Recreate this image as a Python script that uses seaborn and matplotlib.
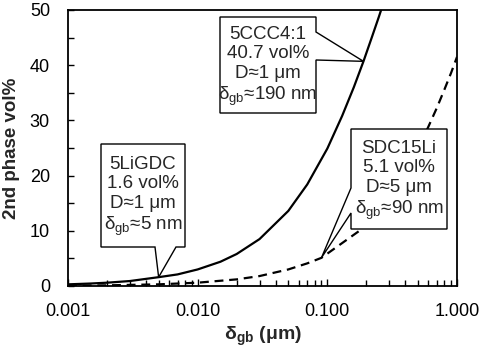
import numpy as np
import pandas as pd
import matplotlib
matplotlib.use("Agg")
import matplotlib.pyplot as plt
from matplotlib.patches import Polygon
from matplotlib.ticker import FixedLocator, NullFormatter, LogLocator
import seaborn as sns

# ---- data ----
delta_d1 = [0.001, 0.0015, 0.002, 0.003, 0.005, 0.007, 0.01, 0.015, 0.02,
            0.03, 0.05, 0.07, 0.1, 0.13, 0.16, 0.19, 0.22, 0.25, 0.28]
vol_d1 = [0.3, 0.45, 0.6, 0.9, 1.6, 2.1, 3.0, 4.4, 5.8,
          8.5, 13.6, 18.4, 24.9, 30.8, 36.0, 40.7, 45.0, 48.8, 52.3]
delta_d5 = [0.001, 0.002, 0.005, 0.01, 0.02, 0.03, 0.05, 0.07, 0.09,
            0.2, 0.3, 0.4, 0.5, 0.6, 0.7, 0.8, 0.9, 1.0]
vol_d5 = [0.06, 0.12, 0.3, 0.6, 1.2, 1.8, 3.0, 4.1, 5.1,
          10.9, 16.1, 20.7, 24.9, 28.8, 32.3, 35.6, 38.6, 41.5]
xtick_vals = [0.001, 0.01, 0.1, 1.0]
xtick_labels = ["0.001", "0.010", "0.100", "1.000"]
ytick_vals = [0, 10, 20, 30, 40, 50]

callouts = [
    ("5LiGDC\n1.6 vol%\nD≈1 μm\nδ$_{\\rm gb}$≈5 nm", 0.005, 1.6),
    ("5CCC4:1\n40.7 vol%\nD≈1 μm\nδ$_{\\rm gb}$≈190 nm", 0.19, 40.7),
    ("SDC15Li\n5.1 vol%\nD≈5 μm\nδ$_{\\rm gb}$≈90 nm", 0.09, 5.1),
]

df = pd.concat([
    pd.DataFrame({"delta": delta_d1, "vol": vol_d1, "series": "D=1"}),
    pd.DataFrame({"delta": delta_d5, "vol": vol_d5, "series": "D=5"}),
])

sns.set_theme(style="white")
plt.rcParams["font.family"] = ["Liberation Sans", "DejaVu Sans"]
plt.rcParams["mathtext.fontset"] = "custom"
plt.rcParams["mathtext.rm"] = "Liberation Sans"
plt.rcParams["mathtext.it"] = "Liberation Sans:italic"
plt.rcParams["mathtext.bf"] = "Liberation Sans:bold"

W, H = 484, 347
fig = plt.figure(figsize=(W / 100, H / 100), dpi=100)
ax = fig.add_axes([68 / W, 1 - 286 / H, (457 - 68) / W, (286 - 10) / H])

sns.lineplot(data=df, x="delta", y="vol", style="series", ax=ax,
             dashes={"D=1": "", "D=5": (4, 2.6)}, color="black",
             linewidth=1.6, legend=False, estimator=None, sort=False)

ax.set_xscale("log")
ax.set_xlim(0.001, 1.0)
ax.set_ylim(0, 50)
ax.set_xticks(xtick_vals)
ax.set_xticklabels(xtick_labels)
ax.xaxis.set_minor_locator(LogLocator(base=10, subs=np.arange(2, 10)))
ax.xaxis.set_minor_formatter(NullFormatter())
ax.set_yticks(ytick_vals)
ax.yaxis.set_minor_locator(FixedLocator([5, 15, 25, 35, 45]))

for s in ax.spines.values():
    s.set_color("black")
    s.set_linewidth(1.3)

ax.tick_params(axis="both", which="both", direction="in", colors="black",
               labelsize=13, top=False, right=False)
ax.tick_params(axis="x", which="major", length=5, width=1, pad=12, bottom=True)
ax.tick_params(axis="x", which="minor", length=4, width=1, bottom=True)
ax.tick_params(axis="y", which="major", length=4, width=1, pad=13, left=True)
ax.tick_params(axis="y", which="minor", length=4, width=1, left=True)

ax.set_xlabel("δ$_{\\mathbf{gb}}$ (μm)", fontsize=14, fontweight="bold", labelpad=4)
ax.set_ylabel("2nd phase vol%", fontsize=13.5, fontweight="bold", labelpad=7)

fig.canvas.draw()


def px(x, y):
    # top-left pixel coords -> display coords
    return (x, H - y)


def anchor(xd, yd):
    return tuple(ax.transData.transform((xd, yd)))


boxes = [
    dict(rect=(101, 144, 185, 247), side="bottom", base=(155, 176), tc=(143, 197)),
    dict(rect=(220, 17, 316, 113), side="right", base=(32, 60), tc=(268, 67)),
    dict(rect=(351, 129, 447, 229), side="left", base=(188, 213), tc=(399, 181)),
]

for (txt, xd, yd), b in zip(callouts, boxes):
    l, t, r, bt = b["rect"]
    a = anchor(xd, yd)
    b0, b1 = b["base"]
    if b["side"] == "bottom":
        pts = [px(l, t), px(r, t), px(r, bt), px(b1, bt), a, px(b0, bt), px(l, bt)]
    elif b["side"] == "right":
        pts = [px(l, t), px(r, t), px(r, b0), a, px(r, b1), px(r, bt), px(l, bt)]
    else:
        pts = [px(l, t), px(r, t), px(r, bt), px(l, bt), px(l, b1), a, px(l, b0)]
    poly = Polygon(pts, closed=True, facecolor="white", edgecolor="black",
                   linewidth=1.0, transform=None, zorder=5, clip_on=False)
    fig.add_artist(poly)
    tx, ty = px(*b["tc"])
    fig.text(tx / W, ty / H, txt, ha="center", va="center", fontsize=13.5,
             linespacing=1.2, zorder=6)

fig.savefig("out.png", dpi=100)
